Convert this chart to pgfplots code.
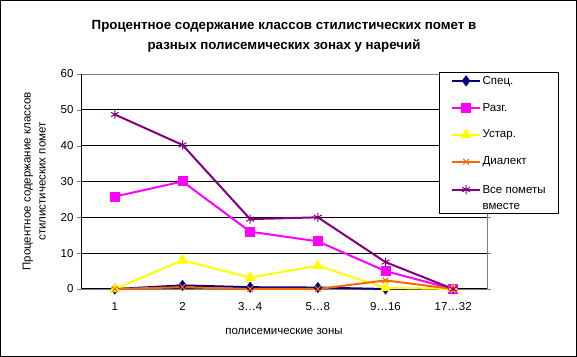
\documentclass[border=0pt]{standalone}
\usepackage{pgfplots}
\pgfplotsset{compat=1.18}
\usepackage{fontspec}
\setmainfont{Liberation Sans}
\definecolor{cnavy}{RGB}{0,0,128}
\definecolor{cmag}{RGB}{255,0,255}
\definecolor{cyel}{RGB}{255,255,0}
\definecolor{corg}{RGB}{255,102,0}
\definecolor{cpur}{RGB}{128,0,128}
\begin{document}
\begin{tikzpicture}[x=1pt,y=1pt]
\begin{axis}[
  name=ax,
  scale only axis,
  width=406pt, height=215pt,
  xmin=-0.5, xmax=5.5, ymin=0, ymax=60,
  xtick={0,1,2,3,4,5},
  xticklabels={1,2,3\dots4,5\dots8,9\dots16,17\dots32},
  major x tick style={draw=none},
  extra x ticks={0.5,1.5,2.5,3.5,4.5},
  extra x tick labels={},
  extra x tick style={major tick length=5pt, tick style={black, draw=black}, grid=none, tick align=outside},
  ytick={0,10,...,60},
  ymajorgrids,
  grid style={black, line width=0.8pt},
  tick align=outside,
  major tick length=4pt,
  axis line style={gray},
  tick label style={font=\fontsize{11.5}{13}\selectfont},
  /pgf/number format/assume math mode=true,
  xticklabel style={yshift=-6pt},
  ylabel={Процентное содержание классов\\стилистических помет},
  ylabel style={align=center, font=\fontsize{11.5}{15}\selectfont, yshift=8pt},
  xlabel={полисемические зоны},
  xlabel style={font=\fontsize{11.5}{13}\selectfont, yshift=-2pt},
  title={Процентное содержание классов стилистических помет в\\разных полисемических зонах у наречий},
  title style={align=center, font=\bfseries\fontsize{13.3}{20}\selectfont, yshift=12pt},
  legend style={at={(0.911,0.991)}, anchor=north west, draw=none, fill=none,
    font=\fontsize{11.5}{14}\selectfont, cells={anchor=west},
    row sep=17.5pt, inner xsep=0pt, inner ysep=0pt, legend cell align=left,
    nodes={inner xsep=1.5pt, inner ysep=0pt}},
  legend image code/.code={\draw[mark repeat=2,mark phase=2,#1] plot coordinates {(0pt,0pt)(14pt,0pt)(28pt,0pt)};},
  legend image post style={sharp plot},
  clip=false,
  every axis plot/.append style={line width=2pt, mark options={solid}},
]
\draw[black, line width=1pt] (axis cs:-0.5,0) -- (axis cs:-0.5,60);
\draw[black, line width=1pt] (axis cs:-0.5,0) -- (axis cs:5.5,0);
\addplot[color=cnavy, mark=diamond*, mark size=4pt] coordinates {(0,0) (1,1.0) (2,0.5) (3,0.4) (4,0) (5,0)};
\addlegendentry{Спец.}
\addplot[color=cmag, mark=square*, mark size=4pt] coordinates {(0,25.8) (1,30) (2,16) (3,13.3) (4,5) (5,0)};
\addlegendentry{Разг.}
\addplot[color=cyel, mark=triangle*, mark size=4.5pt] coordinates {(0,0) (1,8) (2,3.2) (3,6.5) (4,0.3) (5,0)};
\addlegendentry{Устар.}
\addplot[color=corg, mark=x, mark size=4pt, mark options={line width=1pt}] coordinates {(0,0) (1,0.5) (2,0) (3,0) (4,2.4) (5,0)};
\addlegendentry{Диалект}
\addplot[color=cpur, mark=asterisk, mark size=4.5pt, mark options={line width=1pt}] coordinates {(0,48.7) (1,40.2) (2,19.5) (3,20) (4,7.5) (5,0)};
\addlegendentry{\begin{tabular}[t]{@{}l@{}}Все пометы\\[2pt]вместе\end{tabular}}
\filldraw[fill=white, draw=black, line width=1pt] (rel axis cs:0.884,0.349) rectangle (rel axis cs:1.175,1.009);
\end{axis}
\draw[black, line width=1pt] ([shift={(-80.5pt,-67.5pt)}]ax.south west) rectangle ([shift={(89.5pt,73.5pt)}]ax.north east);
\end{tikzpicture}
\end{document}
